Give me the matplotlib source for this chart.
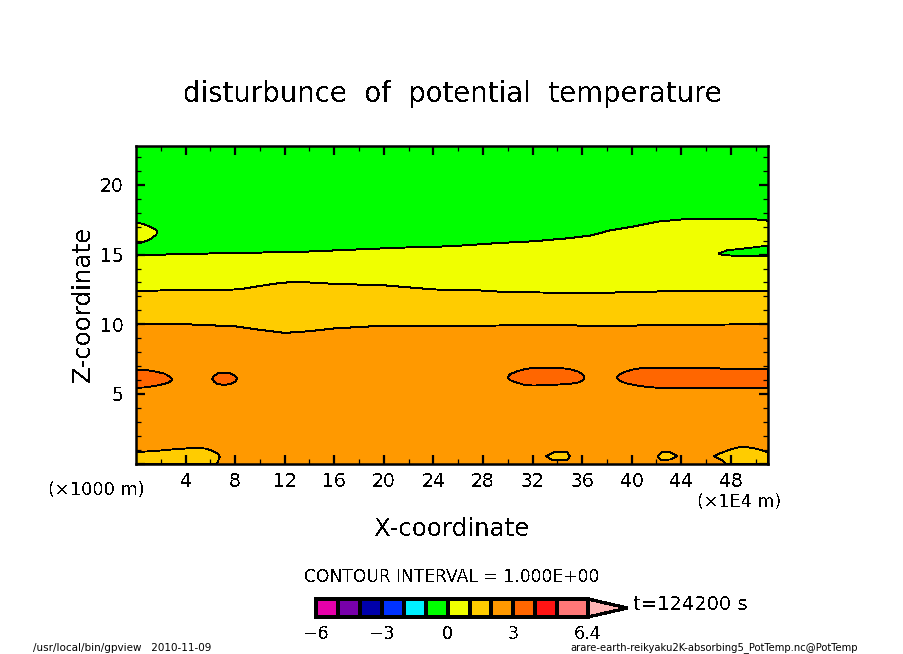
import numpy as np
import matplotlib
matplotlib.use('Agg')
import matplotlib.pyplot as plt

# 等值线边界 (x, z)
x_green = [0, 2, 6.8, 13.3, 21.3, 25.4, 29.4, 32.1, 34.8, 36.7, 38.3, 40.2, 42.1, 44.2, 49.6, 51.0]
z_green = [14.93, 15.0, 15.1, 15.2, 15.5, 15.6, 15.84, 15.96, 16.17, 16.37, 16.75, 17.03, 17.37, 17.54, 17.57, 17.44]
x_yellow = [0, 4, 8.3, 10, 11.7, 13, 16, 20, 24, 28, 30, 36.7, 40, 44, 51.0]
z_yellow = [12.4, 12.45, 12.5, 12.75, 12.97, 13.05, 12.9, 12.8, 12.5, 12.42, 12.3, 12.25, 12.3, 12.4, 12.4]
x_gold = [0, 4, 8, 10, 12, 14, 16, 20, 28, 34, 38, 42, 51.0]
z_gold = [9.98, 10.0, 9.85, 9.6, 9.38, 9.5, 9.7, 9.9, 9.9, 9.95, 9.85, 9.95, 10.0]

# 闭合小块 (x, z)
yellow_left_x = [0, 0.5, 1.0, 1.4, 1.65, 1.71, 1.65, 1.3, 0.9, 0.5, 0]
yellow_left_z = [17.32, 17.22, 17.05, 16.88, 16.75, 16.65, 16.45, 16.2, 16.0, 15.88, 15.79]
green_wedge_x = [47.0, 47.7, 49.3, 51.0, 51.0, 48.8, 47.3]
green_wedge_z = [15.07, 15.31, 15.46, 15.65, 14.93, 14.88, 14.98]

red_a_x = [0, 0.8, 1.7, 2.3, 2.7, 2.92, 2.7, 2.3, 1.7, 0.8, 0]
red_a_z = [6.75, 6.72, 6.58, 6.45, 6.25, 6.03, 5.85, 5.72, 5.6, 5.47, 5.43]
red_b_x = [6.15, 6.3, 6.6, 7.1, 7.6, 8.0, 8.17, 8.0, 7.6, 7.1, 6.6, 6.3]
red_b_z = [6.1, 6.3, 6.47, 6.51, 6.47, 6.3, 6.08, 5.88, 5.7, 5.65, 5.7, 5.88]
red_c_x = [30.0, 30.2, 30.8, 31.4, 32.1, 34.1, 35.0, 35.7, 36.1, 36.2, 36.1, 35.7, 35.0, 34.1, 32.1, 31.4, 30.8, 30.2]
red_c_z = [6.2, 6.42, 6.63, 6.78, 6.87, 6.87, 6.78, 6.6, 6.35, 6.15, 5.98, 5.82, 5.72, 5.67, 5.6, 5.63, 5.79, 5.98]
red_d_x = [38.8, 39.0, 39.6, 40.2, 41.0, 46.9, 47.2, 51.0, 51.0, 49.8, 47.2, 42.2, 41.2, 40.4, 39.5, 39.0]
red_d_z = [6.15, 6.4, 6.63, 6.77, 6.87, 6.87, 6.8, 6.8, 5.41, 5.43, 5.43, 5.43, 5.5, 5.6, 5.77, 5.95]

gold_a_x = [0, 1.9, 3.5, 4.94, 5.6, 6.2, 6.6, 6.76, 6.55, 0]
gold_a_z = [0.81, 0.93, 1.05, 1.13, 1.07, 0.9, 0.7, 0.48, 0.0, 0.0]
gold_b_x = [33.1, 33.7, 34.8, 35.0, 34.8, 33.6]
gold_b_z = [0.52, 0.81, 0.81, 0.52, 0.24, 0.24]
gold_c_x = [42.1, 42.4, 43.1, 43.7, 43.1, 42.4]
gold_c_z = [0.52, 0.81, 0.81, 0.52, 0.29, 0.24]
gold_d_x = [46.6, 47.2, 47.8, 48.4, 48.9, 49.5, 50.1, 51.0, 51.0, 47.6, 47.2]
gold_d_z = [0.52, 0.75, 0.95, 1.12, 1.2, 1.15, 1.05, 0.81, 0.0, 0.0, 0.29]

x_major = [4, 8, 12, 16, 20, 24, 28, 32, 36, 40, 44, 48]
x_minor = [2, 6, 10, 14, 18, 22, 26, 30, 34, 38, 42, 46, 50]
z_major = [0, 5, 10, 15, 20]
z_labels = ['', '5', '10', '15', '20']
z_minor = [1, 2, 3, 4, 6, 7, 8, 9, 11, 12, 13, 14, 16, 17, 18, 19, 21, 22]

# 色标
cb_levels = [-6, -5, -4, -3, -2, -1, 0, 1, 2, 3, 4, 5, 6.4]
cb_colors = ['#E600AA', '#7800AA', '#0000AA', '#0032FF', '#00F0FF', '#00FF00', '#F0FF00',
             '#FFCC00', '#FF9900', '#FF6600', '#FF1414', '#FF7878']
cb_ticks = [-6, -3, 0, 3, 6.4]
cb_ticklabels = ['\u22126', '\u22123', '0', '3', '6.4']
cb_over = '#FFB4B4'

plt.rcParams['font.family'] = ['DejaVu Sans']
plt.rcParams['text.antialiased'] = False

W, H = 904, 654


def px_axes(fig, left, top, right, bottom):
    """按像素位置建坐标轴"""
    return fig.add_axes([left / W, 1 - bottom / H, (right - left) / W, (bottom - top) / H])


def fig_text(fig, px, py, s, **kw):
    fig.text(px / W, 1 - py / H, s, color='k', **kw)


def blob(ax, x, z, color):
    ax.fill(x, z, facecolor=color, edgecolor='k', linewidth=0.6, antialiased=False, zorder=1.5)


fig = plt.figure(figsize=(W / 100, H / 100), dpi=100)

ax = px_axes(fig, 136, 146, 768, 463.5)
ax.set_xlim(0, 51.0)
ax.set_ylim(0, 22.8)
ax.set_facecolor('#00FF00')

for bx, bz, c in [(x_green, z_green, '#F0FF00'),
                  (x_yellow, z_yellow, '#FFCC00'),
                  (x_gold, z_gold, '#FF9900')]:
    ax.fill_between(bx, 0, bz, color=c, linewidth=0, antialiased=False, zorder=1)
    ax.plot(bx, bz, color='k', linewidth=0.7, antialiased=False, zorder=1.2)

blob(ax, yellow_left_x, yellow_left_z, '#F0FF00')
blob(ax, green_wedge_x, green_wedge_z, '#00FF00')
for bx, bz in [(red_a_x, red_a_z), (red_b_x, red_b_z), (red_c_x, red_c_z), (red_d_x, red_d_z)]:
    blob(ax, bx, bz, '#FF6600')
for bx, bz in [(gold_a_x, gold_a_z), (gold_b_x, gold_b_z), (gold_c_x, gold_c_z), (gold_d_x, gold_d_z)]:
    blob(ax, bx, bz, '#FFCC00')

ax.set_xticks(x_major)
ax.set_xticks(x_minor, minor=True)
ax.set_yticks(z_major, labels=z_labels)
ax.set_yticks(z_minor, minor=True)
ax.tick_params(which='major', direction='in', length=6.5, width=1.6, top=True, right=True,
               labelsize=13.5, pad=6)
ax.tick_params(which='minor', direction='in', length=3.5, width=0.9, top=True, right=True)
ax.tick_params(axis='y', which='major', pad=9)
for sp in ax.spines.values():
    sp.set_linewidth(1.8)

fig_text(fig, 452, 94, 'disturbunce  of  potential  temperature', fontsize=19.8, ha='center', va='center')
fig_text(fig, 452, 529, 'X-coordinate', fontsize=17.6, ha='center', va='center')
fig_text(fig, 83, 304, 'Z-coordinate', fontsize=17.6, rotation=90, ha='center', va='center')
fig_text(fig, 96, 490, '(\u00d71000 m)', fontsize=12.8, ha='center', va='center')
fig_text(fig, 739, 502, '(\u00d71E4 m)', fontsize=12.6, ha='center', va='center')
fig_text(fig, 452, 577, 'CONTOUR INTERVAL = 1.000E+00', fontsize=12.3, ha='center', va='center')
fig_text(fig, 633, 604, 't=124200 s', fontsize=14, ha='left', va='center')
# 小字关掉锯齿模式 否则笔画会丢
fig_text(fig, 33, 648, '/usr/local/bin/gpview   2010-11-09', fontsize=7.5, ha='left', va='center', antialiased=True)
fig_text(fig, 570, 648, 'arare-earth-reikyaku2K-absorbing5_PotTemp.nc@PotTemp', fontsize=7.2, ha='left', va='center',
         antialiased=True)

# 色标
cax = px_axes(fig, 316, 599, 588, 617)
cax.set_xlim(-6, 6.4)
cax.set_ylim(0, 1)
cax.bar(cb_levels[:-1], [1] * len(cb_colors), width=np.diff(cb_levels), align='edge',
        color=cb_colors, edgecolor='k', linewidth=1.6, antialiased=False, clip_on=False)
cax.fill([6.4, 8.2, 6.4], [1, 0.5, 0], facecolor=cb_over, edgecolor='k', linewidth=1.6,
         antialiased=False, clip_on=False)
cax.set_yticks([])
cax.set_xticks(cb_ticks, labels=cb_ticklabels)
cax.tick_params(axis='x', length=0, labelsize=12.5, pad=6)
for sp in cax.spines.values():
    sp.set_visible(False)

fig.savefig('out.png', dpi=100)
